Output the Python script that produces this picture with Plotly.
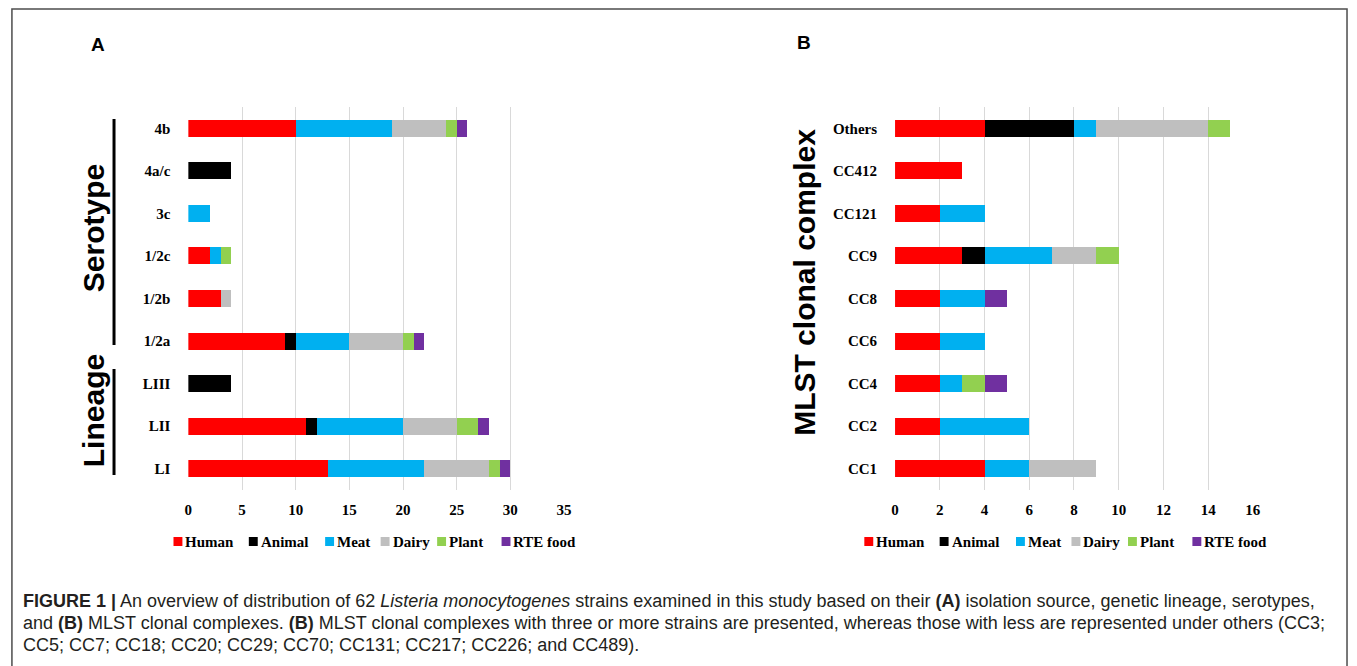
import plotly.graph_objects as go

W, H = 1357, 666

sources = ["Human", "Animal", "Meat", "Dairy", "Plant", "RTE food"]
colors = ["#FF0000", "#000000", "#00B0F0", "#BFBFBF", "#92D050", "#7030A0"]

# Panel A: isolation source by lineage / serotype (bottom to top)
cats_a = ["LI", "LII", "LIII", "1/2a", "1/2b", "1/2c", "3c", "4a/c", "4b"]
human_a = [13, 11, 0, 9, 3, 2, 0, 0, 10]
animal_a = [0, 1, 4, 1, 0, 0, 0, 4, 0]
meat_a = [9, 8, 0, 5, 0, 1, 2, 0, 9]
dairy_a = [6, 5, 0, 5, 1, 0, 0, 0, 5]
plant_a = [1, 2, 0, 1, 0, 1, 0, 0, 1]
rte_a = [1, 1, 0, 1, 0, 0, 0, 0, 1]

# Panel B: MLST clonal complexes (bottom to top)
cats_b = ["CC1", "CC2", "CC4", "CC6", "CC8", "CC9", "CC121", "CC412", "Others"]
human_b = [4, 2, 2, 2, 2, 3, 2, 3, 4]
animal_b = [0, 0, 0, 0, 0, 1, 0, 0, 4]
meat_b = [2, 4, 1, 2, 2, 3, 2, 0, 1]
dairy_b = [3, 0, 0, 0, 0, 2, 0, 0, 5]
plant_b = [0, 0, 1, 0, 0, 1, 0, 0, 1]
rte_b = [0, 0, 1, 0, 1, 0, 0, 0, 0]

series_a = [human_a, animal_a, meat_a, dairy_a, plant_a, rte_a]
series_b = [human_b, animal_b, meat_b, dairy_b, plant_b, rte_b]

SERIF = "Liberation Serif"
SANS = "Liberation Sans"


def px(x):
    return x / W


def py(y):
    return 1 - y / H


fig = go.Figure()
for name, col, va, vb in zip(sources, colors, series_a, series_b):
    fig.add_trace(go.Bar(y=cats_a, x=va, orientation="h", name=name,
                         marker=dict(color=col, line=dict(width=0)),
                         width=0.4, xaxis="x", yaxis="y", showlegend=False))
    fig.add_trace(go.Bar(y=cats_b, x=vb, orientation="h", name=name,
                         marker=dict(color=col, line=dict(width=0)),
                         width=0.4, xaxis="x2", yaxis="y2", showlegend=False))

tickfont = dict(family=SERIF, size=15, color="#000000", weight="bold")
xcommon = dict(showgrid=True, gridcolor="#D9D9D9", gridwidth=1, zeroline=False,
               showline=False, tickfont=tickfont, ticks="outside", ticklen=6,
               tickcolor="rgba(0,0,0,0)", fixedrange=True)
ycommon = dict(showgrid=False, zeroline=False, showline=False, tickfont=tickfont,
               ticks="outside", ticklen=14, tickcolor="rgba(0,0,0,0)",
               type="category", fixedrange=True)

ydom = [py(490), py(107)]
fig.update_layout(
    width=W, height=H, autosize=False,
    margin=dict(l=0, r=0, t=0, b=0),
    paper_bgcolor="white", plot_bgcolor="white",
    barmode="stack", bargap=0.6,
    xaxis=dict(domain=[px(186), px(565)], range=[0, 35], dtick=5, anchor="y",
               tickformat="d", **xcommon),
    yaxis=dict(domain=ydom, anchor="x", **ycommon),
    xaxis2=dict(domain=[px(899), px(1260)], range=[0, 16], dtick=2, anchor="y2",
                tickformat="d", **xcommon),
    yaxis2=dict(domain=ydom, anchor="x2", **ycommon),
)

shapes = []
annotations = []

# outer frame
shapes.append(dict(type="rect", xref="paper", yref="paper",
                   x0=px(8), x1=px(1355), y0=py(700), y1=py(9),
                   line=dict(color="#4D4D4D", width=1.5)))

# group brackets for panel A
shapes.append(dict(type="line", xref="paper", yref="paper",
                   x0=px(111), x1=px(111), y0=py(119), y1=py(345),
                   line=dict(color="#000000", width=3)))
shapes.append(dict(type="line", xref="paper", yref="paper",
                   x0=px(111), x1=px(111), y0=py(369), y1=py(475),
                   line=dict(color="#000000", width=3)))


def txt(x, y, text, size, family, angle=0, xanchor="center", color="#000000"):
    annotations.append(dict(x=px(x), y=py(y), xref="paper", yref="paper",
                            text=text, showarrow=False, textangle=angle,
                            xanchor=xanchor, yanchor="middle",
                            font=dict(family=family, size=size, color=color)))


txt(95, 45, "<b>A</b>", 19, SANS)
txt(807, 42, "<b>B</b>", 19, SANS)
txt(90, 228, "<b>Serotype</b>", 30, SANS, angle=-90)
txt(90, 411, "<b>Lineage</b>", 30, SANS, angle=-90)
txt(807, 282, "<b>MLST clonal complex</b>", 30, SANS, angle=-90)

# legends (one under each panel)
leg_x_a = [171, 247, 324, 380, 437, 502]
for offset in (0, 697):
    for name, col, lx in zip(sources, colors, leg_x_a):
        x0 = lx + offset
        shapes.append(dict(type="rect", xref="paper", yref="paper",
                           x0=px(x0), x1=px(x0 + 9), y0=py(546), y1=py(537),
                           fillcolor=col, line=dict(width=0)))
        txt(x0 + 10, 541.5, "<b>%s</b>" % name, 15, SERIF, xanchor="left")

# caption
cap_col = "#231F20"
cap_lines = [
    "<b>FIGURE 1 |</b> An overview of distribution of 62 <i>Listeria monocytogenes</i> strains examined in this study based on their <b>(A)</b> isolation source, genetic lineage, serotypes,",
    "and <b>(B)</b> MLST clonal complexes. <b>(B)</b> MLST clonal complexes with three or more strains are presented, whereas those with less are represented under others (CC3;",
    "CC5; CC7; CC18; CC20; CC29; CC70; CC131; CC217; CC226; and CC489).",
]
for yy, line in zip([601, 623, 645], cap_lines):
    txt(17, yy, line, 18, SANS, xanchor="left", color=cap_col)

fig.update_layout(shapes=shapes, annotations=annotations)
fig.write_html("out.html", config={"displayModeBar": False},
               post_script="document.body.style.margin='0px';document.body.style.overflow='hidden';")
